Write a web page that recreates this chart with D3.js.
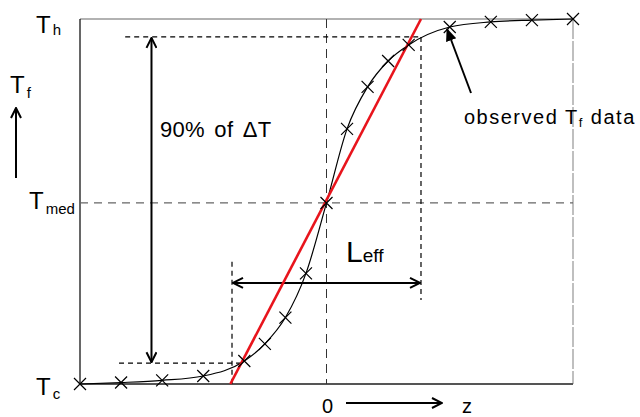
<!DOCTYPE html>
<html lang="en">
<head>
    <meta charset="UTF-8">
    <title>Tf profile</title>
    <script src="https://cdn.jsdelivr.net/npm/d3@7"></script>
    <style>
        body { margin: 0; background: #fff; }
        #chart { width: 640px; height: 417px; }
        text { font-family: "Liberation Sans", Arial, sans-serif; fill: #000; }
    </style>
</head>
<body>
<div id="chart"></div>
<script type="text/javascript">
    // observed Tf data, normalised: 0 = Tc, 1 = Th
    var zValues = [-12, -10, -8, -6, -4, -3, -2, -1, 0, 1, 2, 3, 4, 6, 8, 10, 12];
    var tfValues = [0, 0.004, 0.01, 0.022, 0.063, 0.11, 0.182, 0.303, 0.496, 0.699, 0.814, 0.885, 0.929, 0.978, 0.992, 0.997, 1.0];
    var tMed = 0.496;
    var tLow = 0.057, tHigh = 0.951;        // 90% of dT
    var redLine = [[-4.68, 0], [4.6, 1]];    // tangent at z = 0
    var leffZ = [-4.6, 4.6];

    var svgw = 640, svgh = 417;
    var svg = d3.select('#chart').append('svg')
        .attr('width', svgw).attr('height', svgh);

    var x = d3.scaleLinear().domain([-12, 12]).range([80, 573]);
    var y = d3.scaleLinear().domain([0, 1]).range([384, 19]);

    var defs = svg.append('defs');
    defs.append('marker').attr('id', 'open')
        .attr('viewBox', '0 0 12 12').attr('refX', 11).attr('refY', 6)
        .attr('markerWidth', 12).attr('markerHeight', 12)
        .attr('markerUnits', 'userSpaceOnUse').attr('orient', 'auto-start-reverse')
        .append('path').attr('d', 'M1,1 L11,6 L1,11')
        .attr('fill', 'none').attr('stroke', '#000').attr('stroke-width', 2);
    defs.append('marker').attr('id', 'solid')
        .attr('viewBox', '0 0 12 12').attr('refX', 11).attr('refY', 6)
        .attr('markerWidth', 13).attr('markerHeight', 13)
        .attr('markerUnits', 'userSpaceOnUse').attr('orient', 'auto')
        .append('path').attr('d', 'M0,1 L12,6 L0,11 Z').attr('fill', '#000');

    function line(x1, y1, x2, y2, stroke, w, dash) {
        return svg.append('line')
            .attr('x1', x1).attr('y1', y1).attr('x2', x2).attr('y2', y2)
            .attr('stroke', stroke).attr('stroke-width', w)
            .attr('stroke-dasharray', dash || null);
    }

    // frame
    line(x(-12), y(1), x(12), y(1), '#999', 1.5);
    line(x(12), y(1), x(12), y(0), '#aaa', 1.5, '20,2');
    line(x(-12), y(1), x(-12), y(0), '#000', 1.2);
    line(x(-12), y(0), x(12), y(0), '#555', 2);

    // Tmed and z=0 guides
    line(x(-12), y(tMed), x(12), y(tMed), '#666', 1.2, '8,6');
    line(x(0), y(1), x(0), y(0), '#333', 1, '9,6');

    // 90% guides
    line(x(-9.8), y(tHigh), x(leffZ[1]), y(tHigh), '#000', 1.2, '5,4');
    line(x(-10.1), y(tLow), x(-4), y(tLow), '#000', 1.2, '5,4');
    line(x(leffZ[0]), y(0.335), x(leffZ[0]), y(0), '#000', 1.2, '5,4');
    line(x(leffZ[1]), y(tHigh), x(leffZ[1]), y(0.23), '#000', 1.2, '5,4');

    // 90% arrow
    line(x(-8.52), y(tHigh) + 1, x(-8.52), y(tLow) - 1, '#000', 2)
        .attr('marker-start', 'url(#open)').attr('marker-end', 'url(#open)');

    // Leff arrow
    line(x(leffZ[0]) + 1, y(0.277), x(leffZ[1]) - 1, y(0.277), '#000', 2)
        .attr('marker-start', 'url(#open)').attr('marker-end', 'url(#open)');

    // observed curve
    var pts = zValues.map(function (z, i) { return [z, tfValues[i]]; });
    svg.append('path')
        .datum(pts)
        .attr('d', d3.line()
            .x(function (d) { return x(d[0]); })
            .y(function (d) { return y(d[1]); })
            .curve(d3.curveMonotoneX))
        .attr('fill', 'none').attr('stroke', '#000').attr('stroke-width', 1.2);

    // red tangent
    svg.append('path')
        .datum(redLine)
        .attr('d', d3.line()
            .x(function (d) { return x(d[0]); })
            .y(function (d) { return y(d[1]); }))
        .attr('stroke', '#e8141c').attr('stroke-width', 2.6).attr('fill', 'none');

    // crosses
    svg.selectAll('path.cross')
        .data(pts)
        .enter()
        .append('path')
        .attr('class', 'cross')
        .attr('d', function (d) {
            var cx = x(d[0]), cy = y(d[1]), s = 6;
            return 'M' + (cx - s) + ',' + (cy - s) + 'L' + (cx + s) + ',' + (cy + s) +
                'M' + (cx - s) + ',' + (cy + s) + 'L' + (cx + s) + ',' + (cy - s);
        })
        .attr('stroke', '#000').attr('stroke-width', 1.2).attr('fill', 'none');

    // labels with subscript
    function label(px, py, main, sub, size, subSize, dy) {
        var t = svg.append('text').attr('x', px).attr('y', py).attr('font-size', size);
        t.append('tspan').text(main);
        if (sub) {
            t.append('tspan').attr('font-size', subSize).attr('dx', 2).attr('dy', dy).text(sub);
        }
        return t;
    }
    label(36, 33, 'T', 'h', 24, 15, 2);
    label(10, 93, 'T', 'f', 24, 15, 5);
    label(29, 209, 'T', 'med', 24, 15, 5);
    label(36, 395, 'T', 'c', 24, 15, 4);
    label(346, 262, 'L', 'eff', 30, 19, 0).select('tspan:last-child').attr('dx', 0);

    svg.append('text').attr('x', 160).attr('y', 137).attr('font-size', 22)
        .attr('letter-spacing', 0.3).attr('word-spacing', 3).text('90% of \u0394T');

    var obs = svg.append('text').attr('x', 464).attr('y', 124).attr('font-size', 20)
        .attr('letter-spacing', 1.5);
    obs.append('tspan').text('observed T');
    obs.append('tspan').attr('font-size', 13).attr('dy', 3).text('f');
    obs.append('tspan').attr('dy', -3).text(' data');

    // Tf axis arrow
    line(16, 178, 16, 108, '#000', 2).attr('marker-end', 'url(#open)');

    // pointer to observed data
    line(471, 93, 447, 29, '#000', 2).attr('marker-end', 'url(#solid)');

    // z axis
    svg.append('text').attr('x', x(0) + 1).attr('y', 413).attr('font-size', 20)
        .attr('text-anchor', 'middle').text('0');
    line(346, 403, 442, 403, '#000', 2).attr('marker-end', 'url(#open)');
    svg.append('text').attr('x', 467).attr('y', 413).attr('font-size', 20)
        .attr('text-anchor', 'middle').text('z');
</script>
</body>
</html>
